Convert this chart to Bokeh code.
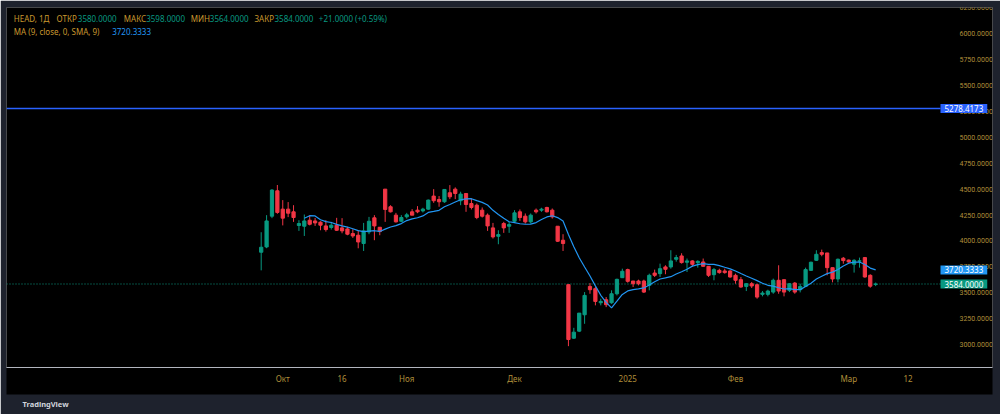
import numpy as np
import pandas as pd
from bokeh.plotting import figure
from bokeh.models import Range1d, FixedTicker, PrintfTickFormatter, Label, ColumnDataSource, Title
from bokeh.embed import file_html
from bokeh.resources import INLINE

# ---------------- data ----------------
ticker_name = "HEAD"
interval = "1Д"
opens = [3891, 3942, 4239, 4484, 4307, 4307, 4281, 4149, 4142, 4200,
         4193, 4181, 4145, 4130, 4152, 4126, 4116, 4071, 4055, 3975,
         4087, 4223, 4132, 4500, 4330, 4249, 4190, 4233, 4281, 4297,
         4290, 4307, 4433, 4400, 4378, 4465, 4500, 4388, 4458, 4361,
         4345, 4297, 4249, 4126, 4045, 4168, 4142, 4190, 4281, 4239,
         4184, 4297, 4297, 4323, 4297, 4142, 4007, 3578, 3061, 3129,
         3287, 3561, 3539, 3403, 3432, 3403, 3490, 3645, 3723, 3613,
         3613, 3613, 3571, 3690, 3684, 3749, 3749, 3823, 3855, 3794,
         3807, 3790, 3797, 3755, 3674, 3716, 3710, 3710, 3668, 3626,
         3561, 3587, 3577, 3484, 3484, 3506, 3620, 3626, 3523, 3593,
         3529, 3561, 3716, 3813, 3887, 3884, 3742, 3633, 3833, 3815,
         3775, 3805, 3839, 3668, 3580]
highs = [4084, 4249, 4500, 4540, 4394, 4375, 4345, 4200, 4255, 4249,
         4222, 4190, 4200, 4184, 4223, 4220, 4136, 4113, 4103, 4174,
         4232, 4249, 4132, 4500, 4345, 4271, 4249, 4271, 4307, 4336,
         4320, 4400, 4500, 4433, 4500, 4539, 4517, 4475, 4462, 4410,
         4361, 4323, 4265, 4174, 4103, 4184, 4184, 4297, 4304, 4265,
         4265, 4313, 4320, 4330, 4313, 4142, 4065, 3578, 3161, 3303,
         3506, 3593, 3555, 3442, 3458, 3523, 3636, 3732, 3732, 3613,
         3626, 3626, 3684, 3723, 3781, 3765, 3910, 3865, 3881, 3830,
         3813, 3813, 3830, 3755, 3739, 3732, 3732, 3716, 3684, 3652,
         3593, 3603, 3587, 3516, 3529, 3636, 3765, 3626, 3593, 3603,
         3587, 3742, 3800, 3910, 3916, 3884, 3742, 3830, 3845, 3820,
         3823, 3839, 3845, 3678, 3598]
lows = [3716, 3930, 4220, 4262, 4150, 4230, 4184, 4097, 4048, 4150,
        4145, 4103, 4090, 4110, 4097, 4074, 4055, 4029, 3929, 3903,
        4065, 4007, 4055, 4184, 4275, 4178, 4184, 4216, 4249, 4268,
        4275, 4300, 4368, 4330, 4368, 4404, 4404, 4345, 4281, 4304,
        4210, 4226, 4097, 4023, 3968, 4078, 4078, 4178, 4194, 4168,
        4168, 4265, 4281, 4275, 4216, 3990, 3903, 2984, 3055, 3120,
        3200, 3490, 3378, 3378, 3361, 3393, 3474, 3642, 3597, 3555,
        3571, 3497, 3523, 3652, 3652, 3678, 3732, 3800, 3781, 3700,
        3752, 3742, 3752, 3652, 3620, 3684, 3684, 3645, 3587, 3548,
        3516, 3545, 3442, 3465, 3465, 3490, 3490, 3465, 3506, 3490,
        3503, 3555, 3710, 3807, 3852, 3668, 3600, 3600, 3780, 3790,
        3694, 3742, 3645, 3548, 3564]
closes = [3939, 4193, 4491, 4275, 4220, 4268, 4226, 4168, 4193, 4161,
          4174, 4152, 4110, 4152, 4103, 4097, 4065, 4048, 3990, 4097,
          4190, 4145, 4090, 4304, 4281, 4184, 4226, 4252, 4249, 4281,
          4307, 4394, 4388, 4378, 4497, 4426, 4458, 4452, 4352, 4323,
          4226, 4239, 4145, 4039, 4061, 4126, 4158, 4271, 4226, 4184,
          4249, 4281, 4307, 4281, 4232, 3997, 3975, 3048, 3119, 3303,
          3474, 3529, 3416, 3416, 3384, 3490, 3629, 3707, 3610, 3587,
          3587, 3506, 3668, 3668, 3732, 3726, 3807, 3839, 3791, 3807,
          3774, 3803, 3755, 3668, 3723, 3694, 3694, 3652, 3620, 3555,
          3587, 3565, 3458, 3497, 3516, 3620, 3516, 3506, 3587, 3506,
          3561, 3723, 3794, 3871, 3871, 3742, 3633, 3823, 3810, 3797,
          3813, 3808, 3652, 3563, 3584]
ma_period = 9
level_price = 5278.4173
price_ticks = [3000, 3250, 3500, 3750, 4000, 4250, 4500, 4750, 5000,
               5250, 5500, 5750, 6000, 6250]
time_tick_bars = [5, 16, 28, 48, 69, 89, 110, 121]
time_tick_labels = ["Окт", "16", "Ноя", "Дек", "2025", "Фев", "Мар", "12"]

# ---------------- layout constants ----------------
W, H = 1000, 414
FL, FR, FT, FB = 6, 992, 7, 367      # plot frame (includes price scale area)
PA = 940                             # price scale starts here
BAR_PX, FIRST_PX = 5.39, 260.7
PX_PER_UNIT, REF_PRICE, REF_PY = 0.10357, 3000.0, 344.0


def dx(px):
    return 1 + (px - FIRST_PX) / BAR_PX


def dy(py):
    return REF_PRICE + (REF_PY - py) / PX_PER_UNIT


UP, DOWN = "#089981", "#f23645"
GOLD = "#c9982f"
AXIS_GOLD = "#b08f3a"
FONT = "Noto Sans"

n = len(closes)
idx = np.arange(1, n + 1)
o = np.array(opens, float)
c = np.array(closes, float)
colors = [UP if cc >= oo else DOWN for oo, cc in zip(o, c)]
src = ColumnDataSource(dict(x=idx, o=o, h=highs, l=lows, c=c,
                            top=np.maximum(o, c), bottom=np.minimum(o, c),
                            color=colors))
ma = pd.Series(c).rolling(ma_period).mean().to_numpy()

p = figure(width=W, height=H,
           x_range=Range1d(dx(FL), dx(FR)), y_range=Range1d(dy(FB), dy(FT)),
           y_axis_location="right", output_backend="svg", toolbar_location=None,
           min_border_left=FL, min_border_right=W - FR, min_border_top=FT,
           min_border_bottom=H - FB,
           background_fill_color="black", border_fill_color="#1e222d",
           outline_line_color=None)
p.grid.visible = False

ya = p.yaxis[0]
ya.fixed_location = dx(PA)
ya.ticker = FixedTicker(ticks=price_ticks)
ya.formatter = PrintfTickFormatter(format="%.4f")
ya.major_label_text_color = AXIS_GOLD
ya.major_label_text_font = "Roboto"
ya.major_label_text_font_size = "7px"
ya.major_tick_line_color = None
ya.minor_tick_line_color = None
ya.axis_line_color = None
ya.major_label_standoff = 13

xa = p.xaxis[0]
xa.ticker = FixedTicker(ticks=time_tick_bars)
xa.major_label_overrides = {b: t for b, t in zip(time_tick_bars, time_tick_labels)}
xa.major_label_text_color = AXIS_GOLD
xa.major_label_text_font = FONT
xa.major_label_text_font_size = "8px"
xa.major_tick_line_color = None
xa.minor_tick_line_color = None
xa.axis_line_color = "#b2b5be"
xa.major_label_standoff = -1
xa.axis_label = " "
xa.axis_label_text_font_size = "4px"
xa.axis_label_standoff = 0
try:
    xa.background_fill_color = "black"
except Exception:
    pass

# horizontal level line and last-price line (end at the price scale)
p.segment(x0=[dx(FL)], y0=[level_price], x1=[dx(PA)], y1=[level_price],
          line_color="#2962ff", line_width=1.5)
p.segment(x0=[dx(FL)], y0=[closes[-1]], x1=[dx(PA)], y1=[closes[-1]],
          line_color=UP, line_width=1, line_dash="1 2")

# candles
p.segment(x0="x", y0="l", x1="x", y1="h", source=src, line_color="color", line_width=1)
p.vbar(x="x", width=0.6, top="top", bottom="bottom", source=src,
       fill_color="color", line_color="color", line_width=1)

# moving average
p.line(idx[ma_period - 1:], ma[ma_period - 1:], line_color="#2196f3", line_width=1.2)


def add_label(px, py, text, color, size="8px"):
    p.add_layout(Label(x=dx(px), y=dy(py), text=text, text_color=color,
                       text_font=FONT, text_font_size=size,
                       text_baseline="middle", text_align="left"))


# price-scale boxes
ma_last = ma[-1]
for price, bg in [(level_price, "#2962ff"), (ma_last, "#2196f3"), (closes[-1], UP)]:
    p.add_layout(Label(x=dx(PA), y=price, text=f"{price:.4f}", text_color="white",
                       text_font=FONT, text_font_size="8px", text_baseline="middle",
                       text_align="left", background_fill_color=bg,
                       padding=dict(left=4, right=4, top=1, bottom=1)))

# legend
chg = closes[-1] - closes[-2]
pct = chg / closes[-2] * 100
L1 = 18.3
add_label(13.3, L1, f"{ticker_name}, {interval}", GOLD)
add_label(56, L1, "ОТКР", GOLD)
add_label(77.3, L1, f"{opens[-1]:.4f}", UP)
add_label(123.3, L1, "МАКС", GOLD)
add_label(145.7, L1, f"{highs[-1]:.4f}", UP)
add_label(190.2, L1, "МИН", GOLD)
add_label(209.3, L1, f"{lows[-1]:.4f}", UP)
add_label(254, L1, "ЗАКР", GOLD)
add_label(274, L1, f"{closes[-1]:.4f}", UP)
add_label(318.3, L1, f"{chg:+.4f} ({pct:+.2f}%)", UP)
L2 = 30.7
add_label(13.3, L2, f"MA ({ma_period}, close, 0, SMA, {ma_period})", GOLD)
add_label(111.7, L2, f"{ma_last:.4f}", "#2196f3")

# footer brand
p.add_layout(Title(text="TradingView", align="left", offset=16, standoff=4,
                   text_color="#d1d4dc", text_font=FONT, text_font_size="7.5px",
                   text_font_style="bold"), "below")

open("out.html", "w").write(file_html(p, INLINE))
